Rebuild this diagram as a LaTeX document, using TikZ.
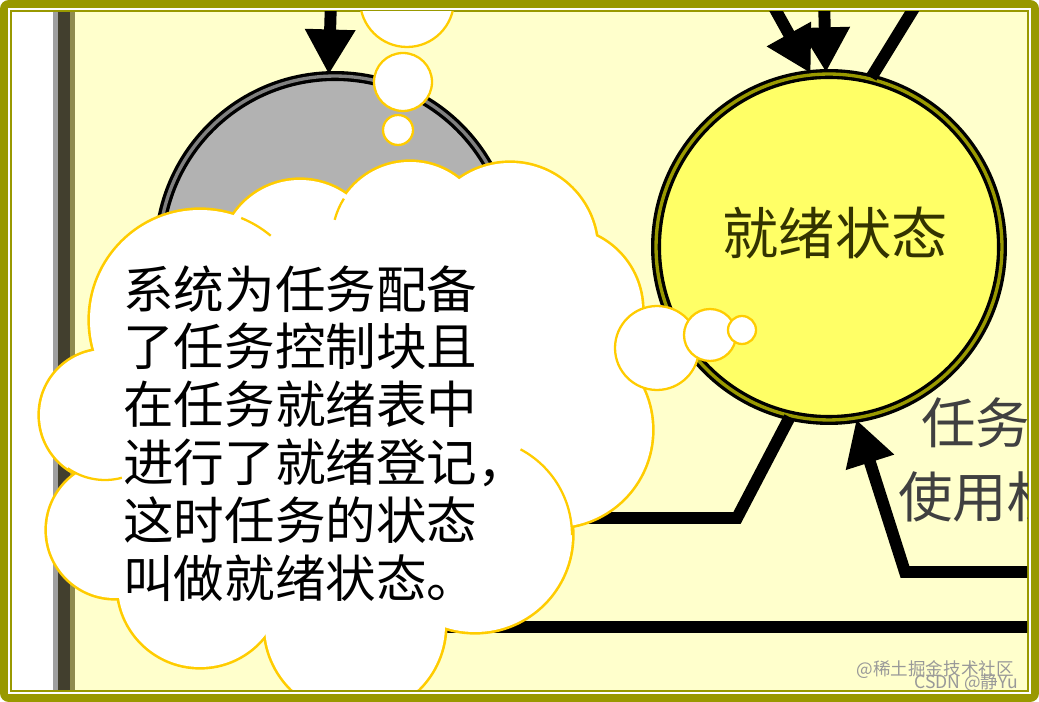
\documentclass[tikz,border=0pt]{standalone}
\usepackage{fontspec}
\setmainfont{Noto Sans CJK SC}
\usetikzlibrary{arrows.meta}

\definecolor{olivebd}{HTML}{999900}
\definecolor{paper}{HTML}{FFFFCC}
\definecolor{sungold}{HTML}{FFCC00}
\definecolor{dormgray}{HTML}{B2B2B2}
\definecolor{readyfill}{HTML}{FFFF66}
\definecolor{readytext}{HTML}{333300}

\begin{document}
\begin{tikzpicture}[x=0.02cm, y=-0.02cm,
    wire/.style={line width=6.8pt},
    flow/.style={wire, -{Triangle[length=0.9cm, width=0.95cm]}},
    state/.style={circle, draw=black, line width=1.9pt, double distance=1.9pt, inner sep=0pt},
    puff/.style={circle, draw=sungold, fill=white, line width=1.3pt, inner sep=0pt}]

    % Fix the size of the picture
    \useasboundingbox (0,0) rectangle (1039,702);

    % Draw the frame
    \fill[olivebd, rounded corners=5pt] (0,0) rectangle (1039,702);
    \fill[white] (8,8) rectangle (1031,694);
    \fill[olivebd] (10,10) rectangle (1029,692);

    \begin{scope}
    \clip (12,12) rectangle (1027,690);
    \fill[paper] (12,12) rectangle (1027,690);

    % Left margin and the gray bar
    \fill[white] (12,12) rectangle (53,690);
    \fill[gray!75] (53,12) rectangle (58,690);
    \fill[black!70!olive] (58,12) rectangle (70,690);
    \fill[olive!45!gray] (70,12) rectangle (75,690);

    % Draw the two states
    \node[state, fill=dormgray, double=gray, minimum size=7.04cm] (dormant) at (335,252) {};
    \node[state, fill=readyfill, double=olivebd, minimum size=6.92cm,
          label={[font=\fontsize{32}{36}\selectfont, text=readytext, xshift=0.12cm, yshift=0.28cm]center:就绪状态}]
          (ready) at (829,247) {};

    % Free ends of the connectors
    \coordinate (dormin) at (331,0);
    \coordinate (readyinA) at (770,0);
    \coordinate (readyinB) at (824,0);
    \coordinate (readyout) at (919,0);
    \coordinate (leftbend) at (737,518);
    \coordinate (leftend) at (560,518);
    \coordinate (rightbend) at (905,572);
    \coordinate (rightend) at (1040,572);
    \coordinate (loopL) at (420,627);
    \coordinate (loopR) at (1040,627);

    % Draw the connectors
    \draw[flow] (dormin) -- (dormant.92);
    \draw[flow] (readyinA) -- (ready.96);
    \draw[flow] (readyinB) -- (ready.91);
    \draw[wire] (ready.76) -- (readyout);
    \draw[wire] (ready.-103) -- (leftbend) -- (leftend);
    \draw[flow] (rightend) -- (rightbend) -- (ready.-81);
    \draw[wire] (loopL) -- (loopR);

    % Text on the right, cut by the frame
    \node[anchor=west, font=\fontsize{31}{36}\selectfont, text=black!75] (taskA) at (915,423) {任务};
    \node[anchor=west, font=\fontsize{31}{36}\selectfont, text=black!75] (taskB) at (892,497) {使用权};

    % Cloud: stroke all lobes, then fill them white
    \foreach \cx/\cy/\r in {200/320/110, 300/260/80, 410/240/78, 510/250/87, 560/310/82,
        555/430/97, 475/535/97, 355/625/90, 200/585/82, 115/530/68, 105/415/65}
        \draw[sungold, line width=3pt] (\cx,\cy) circle[radius=\r];
    \foreach \cx/\cy/\r in {200/320/110, 300/260/80, 410/240/78, 510/250/87, 560/310/82,
        555/430/97, 475/535/97, 355/625/90, 200/585/82, 115/530/68, 105/415/65,
        350/410/200, 180/470/70}
        \fill[white] (\cx,\cy) circle[radius=\r];

    % Inner curls of the cloud
    \draw[sungold, line width=1.3pt] (105,415) ++(125:65) arc[start angle=125, end angle=75, radius=65];
    \draw[sungold, line width=1.3pt] (475,535) ++(0:97) arc[start angle=0, end angle=-62, radius=97];
    \draw[sungold, line width=1.3pt] (200,320) ++(-68:110) arc[start angle=-68, end angle=-50, radius=110];
    \draw[sungold, line width=1.3pt] (410,240) ++(-148:78) arc[start angle=-148, end angle=-165, radius=78];

    % Thought bubbles
    \node[puff, minimum size=1.88cm] (bubA) at (407,0) {};
    \node[puff, minimum size=1.16cm] (bubB) at (403,82) {};
    \node[puff, minimum size=0.6cm] (bubC) at (398,130) {};
    \node[puff, minimum size=1.68cm] (bubD) at (657,348) {};
    \node[puff, minimum size=1.04cm] (bubE) at (710,335) {};
    \node[puff, minimum size=0.56cm] (bubF) at (742,330) {};

    % Text in the cloud
    \node[anchor=north west, align=left, inner sep=0pt, font=\fontsize{28.8}{32.9}\selectfont] (note) at (123,265)
        {系统为任务配备\\了任务控制块且\\在任务就绪表中\\进行了就绪登记，\\这时任务的状态\\叫做就绪状态。};

    % Watermarks
    \node[anchor=east, font=\fontsize{10}{12}\selectfont, text=gray!80] (markA) at (1020,670) {@稀土掘金技术社区};
    \node[anchor=east, font=\fontsize{10}{12}\selectfont, text=gray!80] (markB) at (1024,683) {CSDN @静Yu};
    \end{scope}
\end{tikzpicture}
\end{document}
